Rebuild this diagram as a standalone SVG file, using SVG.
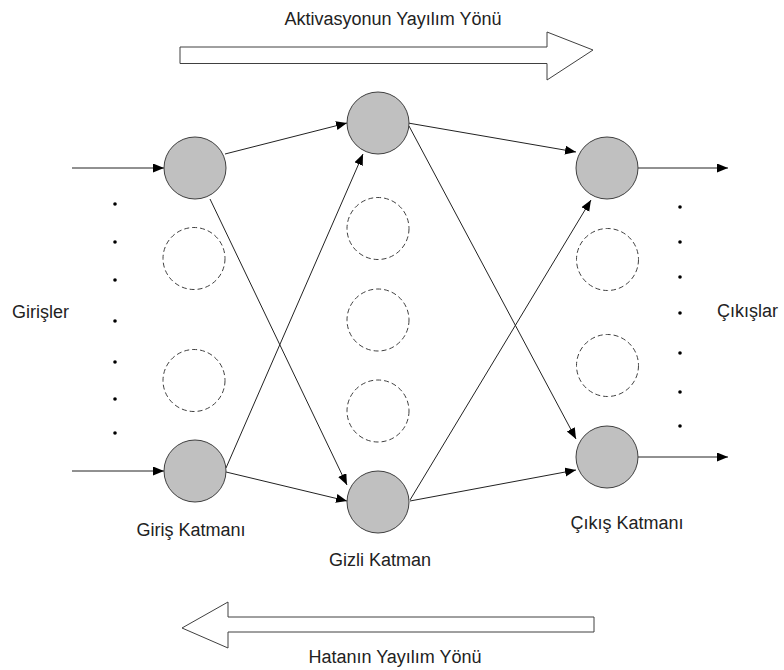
<svg xmlns="http://www.w3.org/2000/svg" width="784" height="670" viewBox="0 0 784 670">
<style>
.t{font-family:"Liberation Sans",Arial,sans-serif;font-size:18px;fill:#222}
.n{fill:#c0c0c0;stroke:#404040;stroke-width:1}
.d{fill:none;stroke:#404040;stroke-width:1;stroke-dasharray:5,3}
.c{stroke:#222;stroke-width:1;fill:none;marker-end:url(#ah)}
.dot{fill:#000}
.ba{fill:#fff;stroke:#404040;stroke-width:1}
</style>
<defs>
<marker id="ah" markerUnits="userSpaceOnUse" markerWidth="12" markerHeight="10" refX="11" refY="4.5" orient="auto">
<path d="M0,0 L11,4.5 L0,9 Z" fill="#000"/>
</marker>
</defs>
<rect width="784" height="670" fill="#fff"/>
<g id="top-arrow">
<polygon class="ba" points="180,47 547,47 547,32 593,50 547,80 547,63.5 180,63.5"/>
<text class="t" x="393" y="25" text-anchor="middle">Aktivasyonun Yayılım Yönü</text>
</g>
<g id="bottom-arrow">
<polygon class="ba" points="594,617 228,617 228,602 182,628 228,648 228,632 594,632"/>
<text class="t" x="395" y="663" text-anchor="middle">Hatanın Yayılım Yönü</text>
</g>
<g id="connectors">
<line class="c" x1="72" y1="168" x2="164" y2="168"/>
<line class="c" x1="72" y1="471" x2="164" y2="471"/>
<line class="c" x1="638" y1="168" x2="728" y2="168"/>
<line class="c" x1="638" y1="457" x2="728" y2="457"/>
<line class="c" x1="225" y1="154" x2="347" y2="123"/>
<line class="c" x1="210" y1="199" x2="347" y2="485"/>
<line class="c" x1="226" y1="468" x2="363" y2="154"/>
<line class="c" x1="226" y1="472" x2="347" y2="501"/>
<line class="c" x1="408" y1="123" x2="576" y2="152"/>
<line class="c" x1="409" y1="126" x2="576" y2="439"/>
<line class="c" x1="410" y1="500" x2="591" y2="200"/>
<line class="c" x1="410" y1="501" x2="576" y2="470"/>
</g>
<g id="input-layer">
<circle class="n" cx="195" cy="168" r="31"/>
<circle class="d" cx="194" cy="258.5" r="31"/>
<circle class="d" cx="194" cy="380.5" r="31"/>
<circle class="n" cx="195" cy="471" r="31"/>
<text class="t" x="191" y="536" text-anchor="middle">Giriş Katmanı</text>
</g>
<g id="hidden-layer">
<circle class="n" cx="378" cy="123" r="31"/>
<circle class="d" cx="378" cy="228.5" r="31"/>
<circle class="d" cx="378" cy="320" r="31"/>
<circle class="d" cx="378" cy="411" r="31"/>
<circle class="n" cx="378" cy="502" r="31"/>
<text class="t" x="380" y="566" text-anchor="middle">Gizli Katman</text>
</g>
<g id="output-layer">
<circle class="n" cx="607" cy="168" r="31"/>
<circle class="d" cx="607.5" cy="259.5" r="31"/>
<circle class="d" cx="607.5" cy="365.5" r="31"/>
<circle class="n" cx="607" cy="457" r="31"/>
<text class="t" x="627" y="529" text-anchor="middle">Çıkış Katmanı</text>
</g>
<g id="inputs">
<text class="t" x="12" y="318">Girişler</text>
<circle class="dot" cx="115" cy="204" r="1.8"/>
<circle class="dot" cx="115" cy="242" r="1.8"/>
<circle class="dot" cx="115" cy="280" r="1.8"/>
<circle class="dot" cx="115" cy="321" r="1.8"/>
<circle class="dot" cx="115" cy="362" r="1.8"/>
<circle class="dot" cx="115" cy="399" r="1.8"/>
<circle class="dot" cx="115" cy="433" r="1.8"/>
</g>
<g id="outputs">
<text class="t" x="717" y="317">Çıkışlar</text>
<circle class="dot" cx="680" cy="207" r="1.8"/>
<circle class="dot" cx="680" cy="242" r="1.8"/>
<circle class="dot" cx="680" cy="277" r="1.8"/>
<circle class="dot" cx="680" cy="313" r="1.8"/>
<circle class="dot" cx="680" cy="353" r="1.8"/>
<circle class="dot" cx="680" cy="392" r="1.8"/>
<circle class="dot" cx="680" cy="426" r="1.8"/>
</g>
</svg>
